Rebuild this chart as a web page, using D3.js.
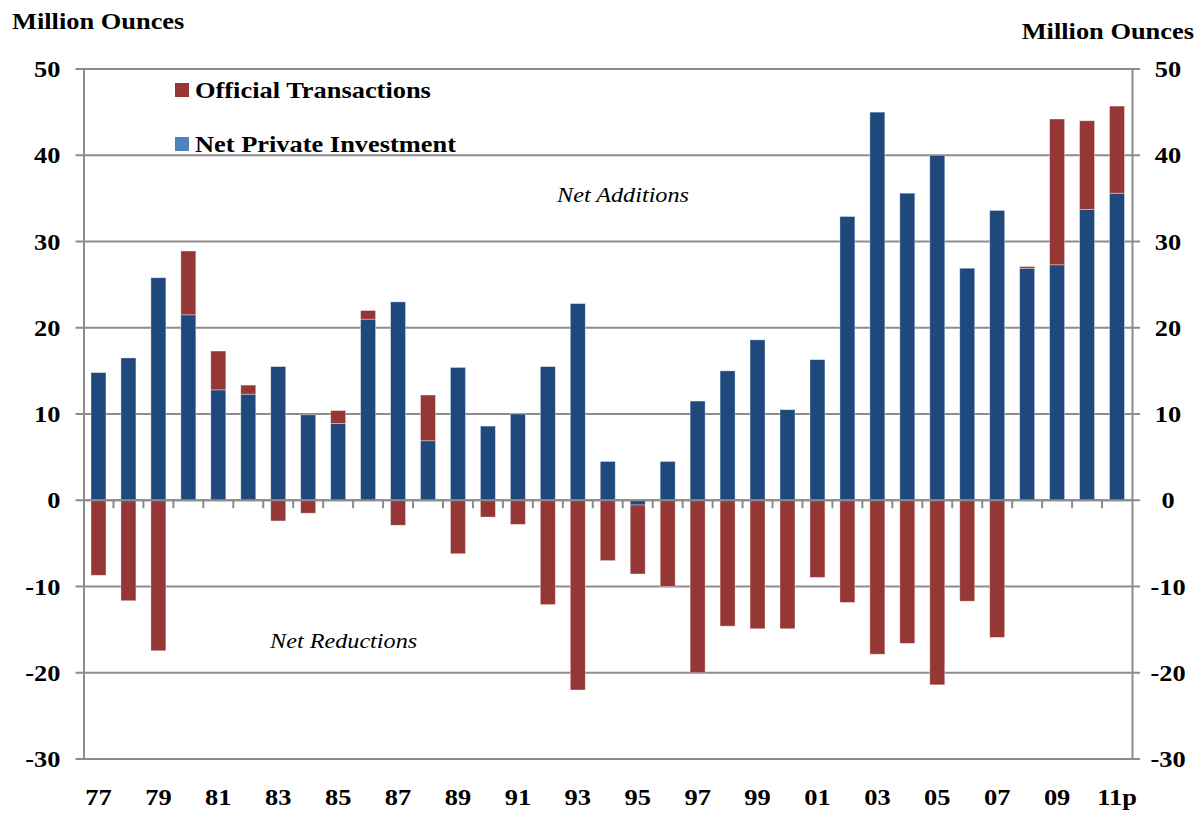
<!DOCTYPE html>
<html>
<head>
<meta charset="utf-8">
<script src="https://cdn.jsdelivr.net/npm/d3@7"></script>
<style>
  body { margin: 0; background: #fff; overflow: hidden; }
  svg { display: block; font-family: "Liberation Serif", "Times New Roman", serif; }
</style>
</head>
<body>
<div id="chart"></div>
<script>
const width = 1200, height = 814;

// data, million ounces
const years = ["77","78","79","80","81","82","83","84","85","86","87","88","89","90","91","92","93","94","95","96","97","98","99","00","01","02","03","04","05","06","07","08","09","10","11p"];
const yearLabels = ["77","79","81","83","85","87","89","91","93","95","97","99","01","03","05","07","09","11p"];
const privateInv = [14.8, 16.5, 25.8, 21.5, 12.8, 12.3, 15.5, 9.9, 8.9, 21.0, 23.0, 6.9, 15.4, 8.6, 10.0, 15.5, 22.8, 4.5, -0.55, 4.5, 11.5, 15.0, 18.6, 10.5, 16.3, 32.9, 45.0, 35.6, 40.0, 26.9, 33.6, 26.9, 27.3, 33.7, 35.6];
const official = [-8.7, -11.65, -17.45, 7.4, 4.5, 1.05, -2.4, -1.5, 1.5, 1.0, -2.9, 5.3, -6.2, -1.95, -2.8, -12.1, -22.0, -7.0, -8.0, -10.0, -20.0, -14.6, -14.9, -14.9, -8.95, -11.85, -17.85, -16.6, -21.4, -11.7, -15.9, 0.2, 16.9, 10.3, 10.1];
const yTicks = [-30, -20, -10, 0, 10, 20, 30, 40, 50];

const margin = {top: 69, right: 68, bottom: 55, left: 83.5};
const innerWidth = width - margin.left - margin.right;
const innerHeight = height - margin.top - margin.bottom;

const blue = "#1f497d", red = "#953735", grid = "#8c8c8c";

// the original text is a little wider than Times, widen it a bit
const widen = sel => sel.each(function() {
    const w = this.getComputedTextLength();
    d3.select(this)
        .attr("textLength", w * 1.1)
        .attr("lengthAdjust", "spacingAndGlyphs");
});

const svg = d3.select("#chart")
    .append("svg")
    .attr("width", width)
    .attr("height", height)
    .attr("viewBox", `0 0 ${width} ${height}`);

const inner = svg.append("g")
    .attr("transform", `translate(${margin.left}, ${margin.top})`);

const xScale = d3.scaleBand()
    .domain(years)
    .range([0, innerWidth])
    .paddingInner(0.5)
    .paddingOuter(0.25);

const yScale = d3.scaleLinear()
    .domain([-30, 50])
    .range([innerHeight, 0]);

// gridlines, sticking out a little past both axes
inner.append("g")
    .selectAll("line")
    .data(yTicks)
    .join("line")
    .attr("x1", -8)
    .attr("x2", innerWidth + 8)
    .attr("y1", d => yScale(d))
    .attr("y2", d => yScale(d))
    .attr("stroke", grid)
    .attr("stroke-width", 2);

// stacked bars, positives and negatives stacked separately like Excel
const table = years.map((y, i) => ({year: y, priv: privateInv[i], off: official[i]}));
const stack = d3.stack()
    .keys(["priv", "off"])
    .offset(d3.stackOffsetDiverging);
const series = stack(table);
const colors = {priv: blue, off: red};

inner.append("g")
    .selectAll("g")
    .data(series)
    .join("g")
    .attr("fill", d => colors[d.key])
    .selectAll("rect")
    .data(d => d)
    .join("rect")
    .attr("x", d => xScale(d.data.year))
    .attr("width", xScale.bandwidth())
    .attr("y", d => yScale(Math.max(d[0], d[1])))
    .attr("height", d => Math.abs(yScale(d[0]) - yScale(d[1])))
    .attr("stroke", "rgba(255,255,255,0.45)")
    .attr("stroke-width", 0.8);

// zero line with small ticks between the categories
const boundaries = years.slice(1).map(y => xScale(y) - xScale.step() * 0.25);
const zeroAxis = inner.append("g")
    .attr("transform", `translate(0, ${yScale(0)})`);
zeroAxis.append("line")
    .attr("x1", 0)
    .attr("x2", innerWidth)
    .attr("stroke", grid)
    .attr("stroke-width", 2);
zeroAxis.selectAll(".tk")
    .data(boundaries)
    .join("line")
    .attr("class", "tk")
    .attr("x1", d => d)
    .attr("x2", d => d)
    .attr("y1", 0)
    .attr("y2", 8)
    .attr("stroke", grid)
    .attr("stroke-width", 2);

// left and right axes (plain hyphen for negatives, like the original)
const fmt = d => String(d);
const leftAxis = d3.axisLeft(yScale).tickValues(yTicks).tickFormat(fmt).tickSize(0);
const rightAxis = d3.axisRight(yScale).tickValues(yTicks).tickFormat(fmt).tickSize(0);

const gl = inner.append("g").call(leftAxis);
const gr = inner.append("g").attr("transform", `translate(${innerWidth}, 0)`).call(rightAxis);
[gl, gr].forEach(g => {
    g.attr("font-family", null).attr("font-size", null);
    g.select(".domain").attr("stroke", grid).attr("stroke-width", 2);
    g.selectAll("text")
        .attr("font-size", 24)
        .attr("font-weight", "bold")
        .attr("fill", "#000");
});
gl.selectAll("text").attr("x", -23).call(widen);
gr.selectAll("text").attr("text-anchor", "middle").attr("x", 36).call(widen);

// year labels along the bottom
const bottomAxis = d3.axisBottom(xScale).tickValues(yearLabels).tickSize(0).tickPadding(0);
const gb = inner.append("g")
    .attr("transform", `translate(0, ${innerHeight + 29})`)
    .call(bottomAxis);
gb.attr("font-family", null).attr("font-size", null);
gb.select(".domain").remove();
gb.selectAll("text")
    .attr("font-size", 24)
    .attr("font-weight", "bold")
    .attr("fill", "#000")
    .attr("dy", "0.71em")
    .call(widen);

// texts
const addText = (txt, x, y, size, opts = {}) => svg.append("text")
    .text(txt)
    .attr("x", x)
    .attr("y", y)
    .attr("font-size", size)
    .attr("font-weight", opts.italic ? "normal" : "bold")
    .attr("font-style", opts.italic ? "italic" : "normal")
    .attr("text-anchor", opts.anchor || "start")
    .attr("fill", "#000")
    .call(widen);

addText("Million Ounces", 12, 29, 24);
addText("Million Ounces", 1194, 39, 24, {anchor: "end"});
addText("Net Additions", 557, 202, 22, {italic: true});
addText("Net Reductions", 270, 648, 22, {italic: true});

// legend
const legendItems = [
    {label: "Official Transactions", color: red, y: 83},
    {label: "Net Private Investment", color: "#4f81bd", y: 137}
];
legendItems.forEach(item => {
    svg.append("rect")
        .attr("x", 175)
        .attr("y", item.y)
        .attr("width", 14)
        .attr("height", 14)
        .attr("fill", item.color);
    addText(item.label, 195, item.y + 15, 24);
});
</script>
</body>
</html>
